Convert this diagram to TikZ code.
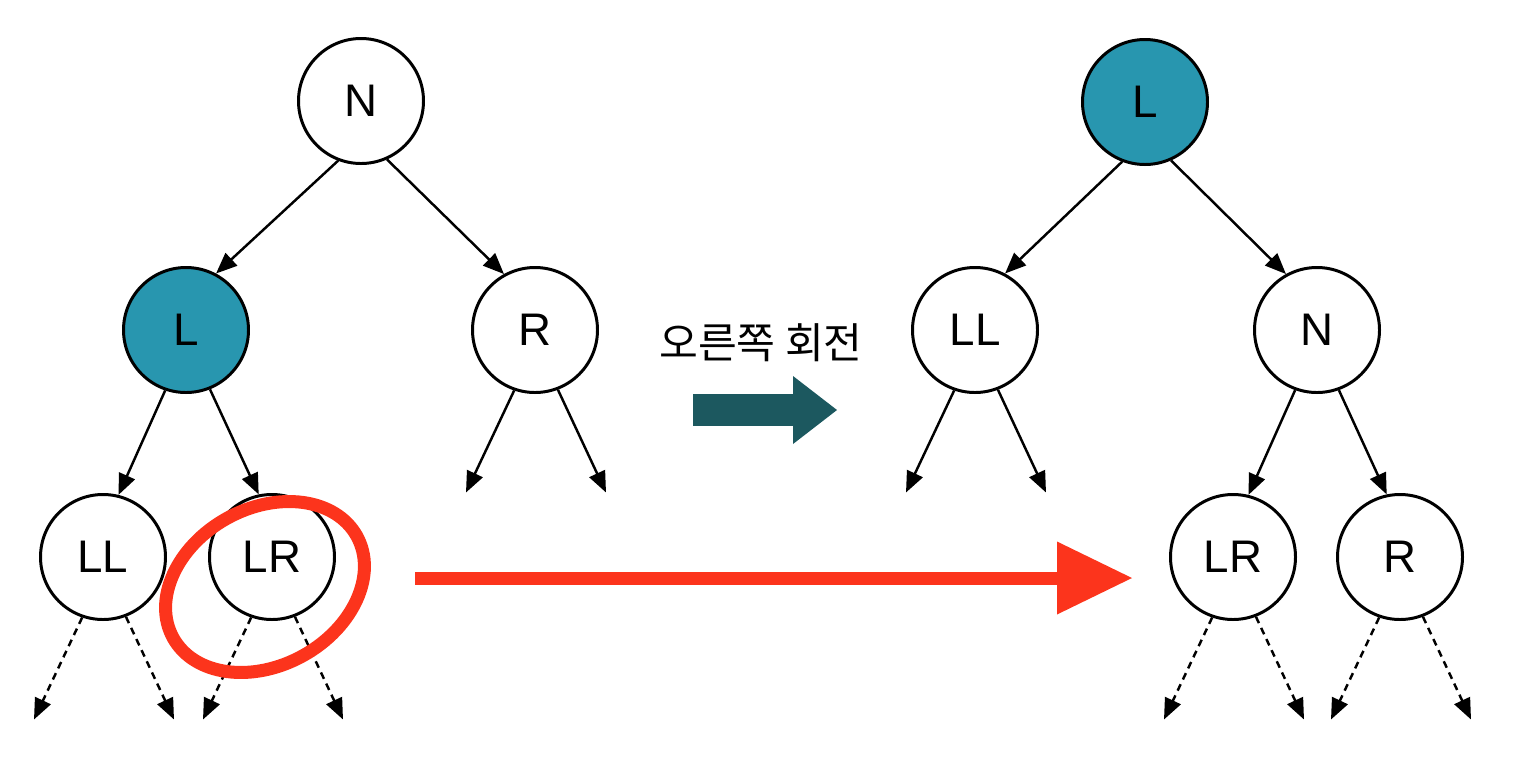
\documentclass[tikz,border=0pt]{standalone}
\usepackage{fontspec}
\setmainfont{Liberation Sans}
\newfontfamily\kofont{Noto Sans CJK KR}
\usetikzlibrary{positioning, arrows.meta, calc, shapes.geometric}
\definecolor{nodeteal}{RGB}{40,150,175}
\definecolor{turnteal}{RGB}{28,88,95}
\definecolor{markred}{RGB}{252,52,28}
\tikzset{
vertex/.style={circle, draw, line width=1.7pt, minimum size=2.5cm, inner sep=0pt, font=\fontsize{26}{30}\selectfont}, % a tree node
moved/.style={vertex, fill=nodeteal}, % the node that is rotated up
edge/.style={line width=1.4pt, -{Triangle[length=0.42cm,width=0.34cm]}}, % child pointer
subtree/.style={edge, dash pattern=on 4pt off 3pt}, % pointer to a deeper subtree
turn/.style={line width=0.64cm, turnteal, -{Triangle[length=0.88cm,width=1.36cm,line width=0pt]}}, % rotation arrow
hilite/.style={draw=markred, line width=0.26cm}, % red mark
on grid, % distances are between node centres
}
\begin{document}
\begin{tikzpicture}
\useasboundingbox (0,0) rectangle (30.3,-15.26);
% tree before the rotation
\node[vertex] (N) at (7.22,-2.02) {N};
\node[moved, below left=4.58cm and 3.5cm of N] (L) {L};
\node[vertex, below right=4.58cm and 3.48cm of N] (R) {R};
\node[vertex, below left=4.54cm and 1.66cm of L] (LL) {LL};
\node[vertex, below right=4.54cm and 1.72cm of L] (LR) {LR};
\draw (N.-111) edge[edge] (L.62)
      (N.-66) edge[edge] (R.119)
      (L.-109) edge[edge] (LL.76)
      (L.-68) edge[edge] (LR.102);
% tree after the rotation
\node[moved] (L2) at (22.9,-2.04) {L};
\node[vertex, below left=4.56cm and 3.4cm of L2] (LL2) {LL};
\node[vertex, below right=4.56cm and 3.44cm of L2] (N2) {N};
\node[vertex, below left=4.54cm and 1.68cm of N2] (LR2) {LR};
\node[vertex, below right=4.54cm and 1.66cm of N2] (R2) {R};
\draw (L2.-111) edge[edge] (LL2.62)
      (L2.-66) edge[edge] (N2.119)
      (N2.-110) edge[edge] (LR2.76)
      (N2.-70) edge[edge] (R2.102);
% pointers to the lower levels
\foreach \p/\s in {R/edge, LL/subtree, LR/subtree, LL2/edge, LR2/subtree, R2/subtree} {
  \coordinate (\p-a) at ($(\p)+(-1.38,-3.25)$);
  \coordinate (\p-b) at ($(\p)+(1.42,-3.25)$);
  \draw[\s] (\p.-109) -- (\p-a);
  \draw[\s] (\p.-69) -- (\p-b);
}
% rotation label and arrow
\node[font=\kofont\fontsize{24}{28}\selectfont] (turn-label) at (15.22,-6.86) {오른쪽 회전};
\coordinate (turn-from) at (13.86,-8.2);
\coordinate (turn-to) at (16.74,-8.2);
\draw[turn] (turn-from) -- (turn-to);
% LR changes its parent
\node[hilite, ellipse, rotate=29, minimum width=4.2cm, minimum height=3.14cm] (ring) at ($(LR)+(-0.14,-0.6)$) {};
\coordinate (move-from) at (8.3,-11.56);
\coordinate (move-to) at (22.64,-11.56);
\draw[hilite, -{Triangle[length=1.5cm,width=1.46cm,line width=0pt]}] (move-from) -- (move-to);
\end{tikzpicture}
\end{document}
